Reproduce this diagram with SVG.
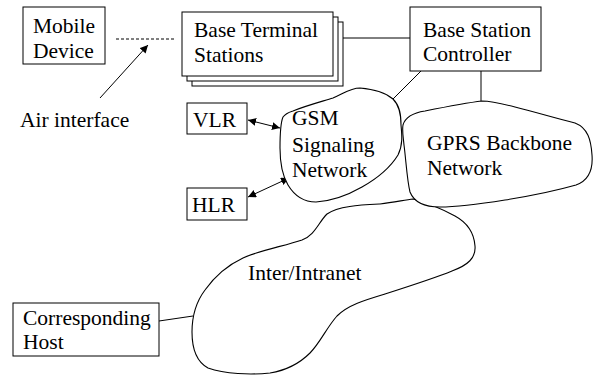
<svg xmlns="http://www.w3.org/2000/svg" width="593" height="375" viewBox="0 0 593 375">
<style>
text{font-family:"Liberation Serif","Times New Roman",serif;font-size:21.5px;fill:#000}
.b{fill:#fff;stroke:#000;stroke-width:1}
.c{fill:#fff;stroke:#000;stroke-width:1.1;stroke-linejoin:round}
.l{fill:none;stroke:#000;stroke-width:1}
</style>
<defs>
<marker id="ah" viewBox="0 0 10 10" refX="10" refY="5" markerWidth="8" markerHeight="8" markerUnits="userSpaceOnUse" orient="auto-start-reverse">
<path d="M0,0 L10,5 L0,10 z" fill="#000"/>
</marker>
</defs>
<rect width="593" height="375" fill="#fff"/>
<g id="connectors">
<line class="l" x1="116" y1="39" x2="176" y2="39" stroke-dasharray="3,2"/>
<line class="l" x1="100" y1="98" x2="148" y2="45" marker-end="url(#ah)"/>
<line class="l" x1="333" y1="38" x2="410" y2="38"/>
<line class="l" x1="421" y1="71" x2="392" y2="100"/>
<line class="l" x1="481" y1="71" x2="481" y2="101"/>
<line class="l" x1="248" y1="120" x2="280" y2="128" marker-start="url(#ah)" marker-end="url(#ah)"/>
<line class="l" x1="248" y1="197" x2="289" y2="178" marker-start="url(#ah)" marker-end="url(#ah)"/>
<line class="l" x1="159" y1="321" x2="193" y2="316"/>
</g>
<g id="inter">
<path class="c" d="M413,199 C425,202 440,208 455,216 C466,222 474,232 475,246 C476,258 468,265 452,271 C435,278 410,286 385,294 C365,300 348,305 337,316 C327,327 320,343 310,353 C300,363 288,370 270,373 C250,375 225,374 208,368 C197,362 192,348 192,332 C192,315 196,302 205,290 C215,276 228,265 243,258 C260,250 285,246 302,240 C315,235 318,223 327,214 C338,206 360,205 380,204 C395,202 405,200 413,199 Z"/>
<text x="248" y="280">Inter/Intranet</text>
</g>
<g id="gprs">
<path class="c" d="M403,125 C405,118 412,113 425,111 C445,107 465,103 482,101 C492,101 500,103 515,107 C535,112 555,118 575,123 C588,128 591,140 592,155 C593,168 590,180 576,185 C555,191 530,196 505,200 C480,204 460,207 440,207 C425,207 414,202 410,192 C407,180 406,160 404,145 C403,135 402,130 403,125 Z"/>
<text x="427" y="150">GPRS Backbone</text>
<text x="427" y="175">Network</text>
</g>
<g id="gsm">
<path class="c" d="M293,111 C305,106 320,102 333,98 C343,94 350,88 360,88 C372,89 385,92 393,99 C400,106 401,115 401,125 C402,135 403,145 398,155 C390,168 378,178 362,187 C348,195 332,201 316,202 C303,202 294,195 288,185 C282,175 280,162 280,148 C280,135 280,124 283,117 C286,113 290,112 293,111 Z"/>
<text x="292" y="125">GSM</text>
<text x="292" y="152">Signaling</text>
<text x="292" y="177">Network</text>
</g>
<g id="mobile">
<rect class="b" x="23" y="7" width="82" height="57"/>
<text x="33" y="33">Mobile</text>
<text x="33" y="58">Device</text>
</g>
<g id="air">
<text x="20" y="127">Air interface</text>
</g>
<g id="bts">
<rect class="b" x="192" y="22" width="151" height="64"/>
<rect class="b" x="187" y="17" width="151" height="64"/>
<rect class="b" x="182" y="12" width="151" height="64"/>
<text x="194" y="37">Base Terminal</text>
<text x="194" y="62">Stations</text>
</g>
<g id="bsc">
<rect class="b" x="410" y="7" width="131" height="64"/>
<text x="423" y="37">Base Station</text>
<text x="423" y="61">Controller</text>
</g>
<g id="vlr">
<rect class="b" x="187" y="103" width="60" height="31"/>
<text x="193" y="127">VLR</text>
</g>
<g id="hlr">
<rect class="b" x="187" y="188" width="60" height="32"/>
<text x="192" y="212">HLR</text>
</g>
<g id="host">
<rect class="b" x="13" y="303" width="146" height="53"/>
<text x="23" y="325">Corresponding</text>
<text x="23" y="349">Host</text>
</g>
</svg>
